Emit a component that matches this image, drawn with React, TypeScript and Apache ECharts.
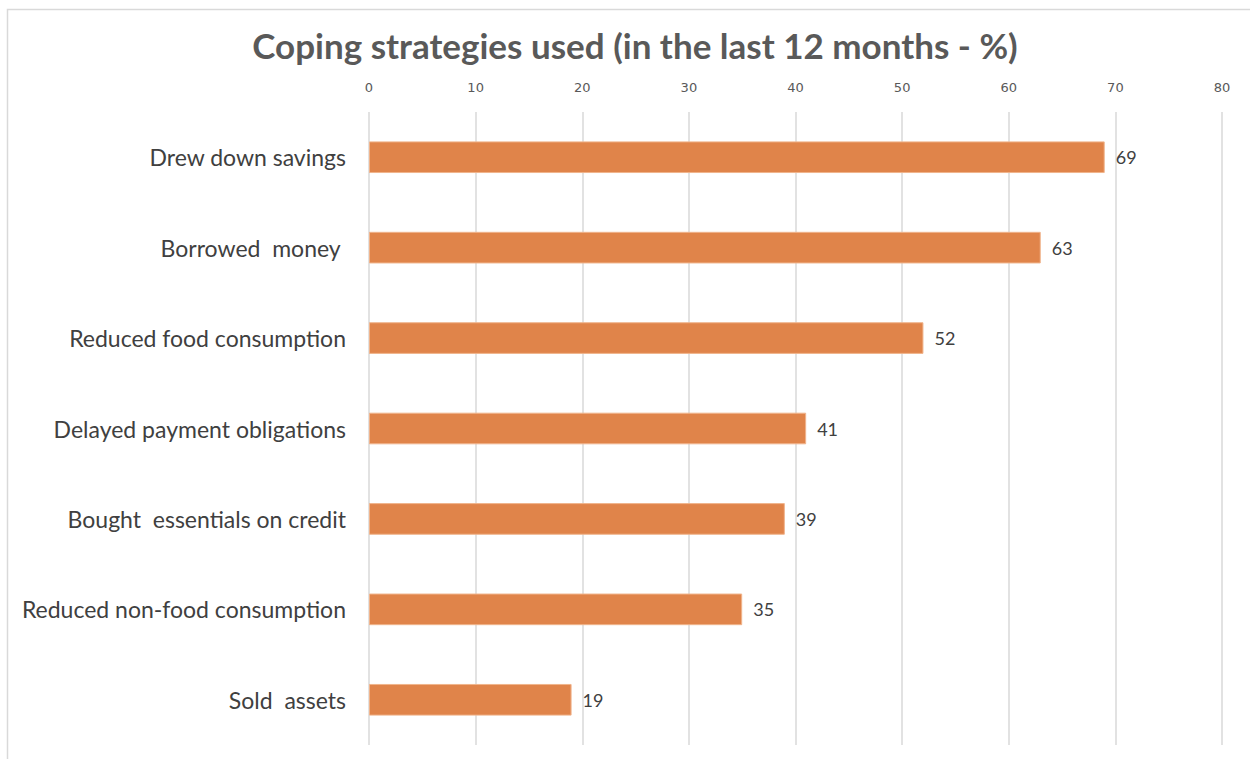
import React, { useEffect, useRef } from "react";
import * as echarts from "echarts";

const categories = [
  "Drew down savings",
  "Borrowed  money ",
  "Reduced food consumption",
  "Delayed payment obligations",
  "Bought  essentials on credit",
  "Reduced non-food consumption",
  "Sold  assets",
];
const values = [69, 63, 52, 41, 39, 35, 19];
const titleText = "Coping strategies used (in the last 12 months - %)";

export default function App() {
  const ref = useRef<HTMLDivElement>(null);
  useEffect(() => {
    if (!ref.current) return;
    const chart = echarts.init(ref.current, null, { renderer: "svg" });
    chart.setOption({
      animation: false,
      backgroundColor: "#ffffff",
      title: {
        text: titleText,
        left: 630,
        textAlign: "center",
        top: 22,
        textStyle: {
          fontFamily: "Lato",
          fontWeight: "bold",
          fontSize: 35,
          color: "#595959",
        },
      },
      graphic: [
        {
          type: "rect",
          shape: { x: 7.5, y: 9.5, width: 1300, height: 800 },
          style: { fill: "none", stroke: "#D9D9D9", lineWidth: 1.5 },
          silent: true,
        },
      ],
      grid: { left: 369, right: 28, top: 112, bottom: 14, containLabel: false },
      xAxis: {
        type: "value",
        position: "top",
        min: 0,
        max: 80,
        interval: 10,
        axisLine: { show: false },
        axisTick: { show: false },
        splitLine: { show: true, lineStyle: { color: "#D9D9D9", width: 1.5 } },
        axisLabel: {
          margin: 18,
          fontFamily: "DejaVu Sans",
          fontSize: 13,
          color: "#595959",
        },
      },
      yAxis: {
        type: "category",
        inverse: true,
        data: categories,
        axisLine: { show: false },
        axisTick: { show: false },
        axisLabel: {
          margin: 23,
          fontFamily: "Lato",
          fontSize: 23,
          color: "#404040",
        },
      },
      series: [
        {
          type: "bar",
          data: values,
          barCategoryGap: "65%",
          itemStyle: { color: "#E0844A", borderColor: "#F0B48C", borderWidth: 1 },
          label: {
            show: true,
            position: "right",
            distance: 11,
            fontFamily: "Lato",
            fontSize: 18,
            color: "#404040",
          },
        },
      ],
    });
    return () => chart.dispose();
  }, []);
  return (
    <div
      ref={ref}
      style={{ position: "fixed", left: 0, top: 0, width: 1250, height: 759 }}
    />
  );
}
